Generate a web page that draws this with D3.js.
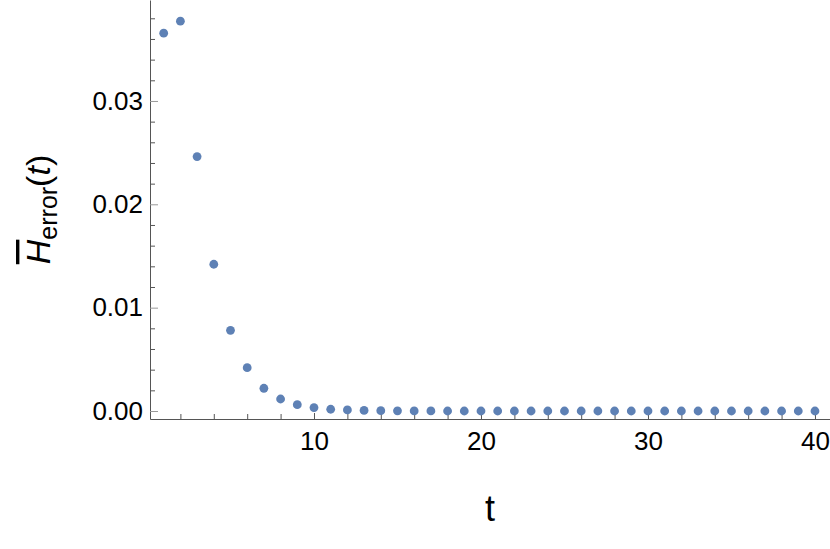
<!DOCTYPE html>
<html>
<head>
<meta charset="utf-8">
<style>
  body { margin: 0; background: #fff; }
  svg { display: block; }
  text { font-family: "Liberation Sans", Arial, sans-serif; fill: #000; }
  .tick text { font-size: 26px; }
</style>
</head>
<body>
<div id="chart"></div>
<script src="https://d3js.org/d3.v7.min.js"></script>
<script>
'use strict';

// time steps
var steps = [1, 2, 3, 4, 5, 6, 7, 8, 9, 10,
             11, 12, 13, 14, 15, 16, 17, 18, 19, 20,
             21, 22, 23, 24, 25, 26, 27, 28, 29, 30,
             31, 32, 33, 34, 35, 36, 37, 38, 39, 40];

// mean error H_error(t)
var errors = [0.03656, 0.03772, 0.02462, 0.01420, 0.00781, 0.00419, 0.00220, 0.00116, 0.00061, 0.00033,
              0.00017, 0.00010, 0.00006, 0.00003, 0.00002, 0.00001, 0.00001, 0, 0, 0,
              0, 0, 0, 0, 0, 0, 0, 0, 0, 0,
              0, 0, 0, 0, 0, 0, 0, 0, 0, 0];

var xMajor = [10, 20, 30, 40];
var xMinor = [2, 4, 6, 8, 12, 14, 16, 18, 22, 24, 26, 28, 32, 34, 36, 38];
var yMajor = [0, 0.01, 0.02, 0.03];
var yMinor = [0.002, 0.004, 0.006, 0.008, 0.012, 0.014, 0.016, 0.018,
              0.022, 0.024, 0.026, 0.028, 0.032, 0.034, 0.036, 0.038];

var width = 830,
    height = 549;

var svg = d3.select('#chart').append('svg')
  .attr('width', width)
  .attr('height', height);

var x = d3.scaleLinear().domain([0.18, 40.9]).range([150, 830]);
var y = d3.scaleLinear().domain([-0.000774, 0.03977]).range([419, 0]);

// minor ticks first (no labels)
svg.append('g')
  .attr('transform', 'translate(0,' + y.range()[0] + ')')
  .call(d3.axisBottom(x).tickValues(xMinor).tickSize(-5).tickFormat(''))
  .call(g => g.select('.domain').remove())
  .call(g => g.selectAll('line').attr('stroke', '#555'));

svg.append('g')
  .attr('transform', 'translate(' + x.range()[0] + ',0)')
  .call(d3.axisLeft(y).tickValues(yMinor).tickSize(-5).tickFormat(''))
  .call(g => g.select('.domain').remove())
  .call(g => g.selectAll('line').attr('stroke', '#555'));

// major ticks + labels
var xAxis = svg.append('g')
  .attr('transform', 'translate(0,' + y.range()[0] + ')')
  .call(d3.axisBottom(x).tickValues(xMajor).tickSize(-6).tickSizeOuter(0).tickPadding(13))
  .call(g => g.select('.domain').attr('stroke', '#555'))
  .call(g => g.selectAll('.tick line').attr('stroke', '#555'));

var yAxis = svg.append('g')
  .attr('transform', 'translate(' + x.range()[0] + ',0)')
  .call(d3.axisLeft(y).tickValues(yMajor).tickSize(-8).tickSizeOuter(0).tickPadding(7)
          .tickFormat(d3.format('.2f')))
  .call(g => g.select('.domain').attr('stroke', '#555'))
  .call(g => g.selectAll('.tick line').attr('stroke', '#999'));

svg.selectAll('.tick text').attr('fill', '#000').style('font-family', '"Liberation Sans", Arial, sans-serif');

// points
svg.append('g')
  .selectAll('circle')
  .data(steps)
  .join('circle')
  .attr('cx', d => x(d))
  .attr('cy', (d, i) => y(errors[i]))
  .attr('r', 4.4)
  .attr('fill', '#5E81B5');

// axis titles
svg.append('text')
  .attr('x', (x.range()[0] + x.range()[1]) / 2)
  .attr('y', 521)
  .attr('text-anchor', 'middle')
  .style('font-size', '36px')
  .text('t');

var ylab = svg.append('text')
  .attr('transform', 'translate(50,' + ((y.range()[0] + y.range()[1]) / 2) + ') rotate(-90)')
  .attr('text-anchor', 'middle')
  .style('font-size', '34px');
ylab.append('tspan')
  .style('font-style', 'italic')
  .style('text-decoration', 'overline')
  .text('H');
ylab.append('tspan')
  .attr('dy', 7)
  .style('font-size', '25px')
  .text('error');
ylab.append('tspan')
  .attr('dy', -7)
  .text('(');
ylab.append('tspan')
  .style('font-style', 'italic')
  .text('t');
ylab.append('tspan')
  .text(')');
</script>
</body>
</html>
